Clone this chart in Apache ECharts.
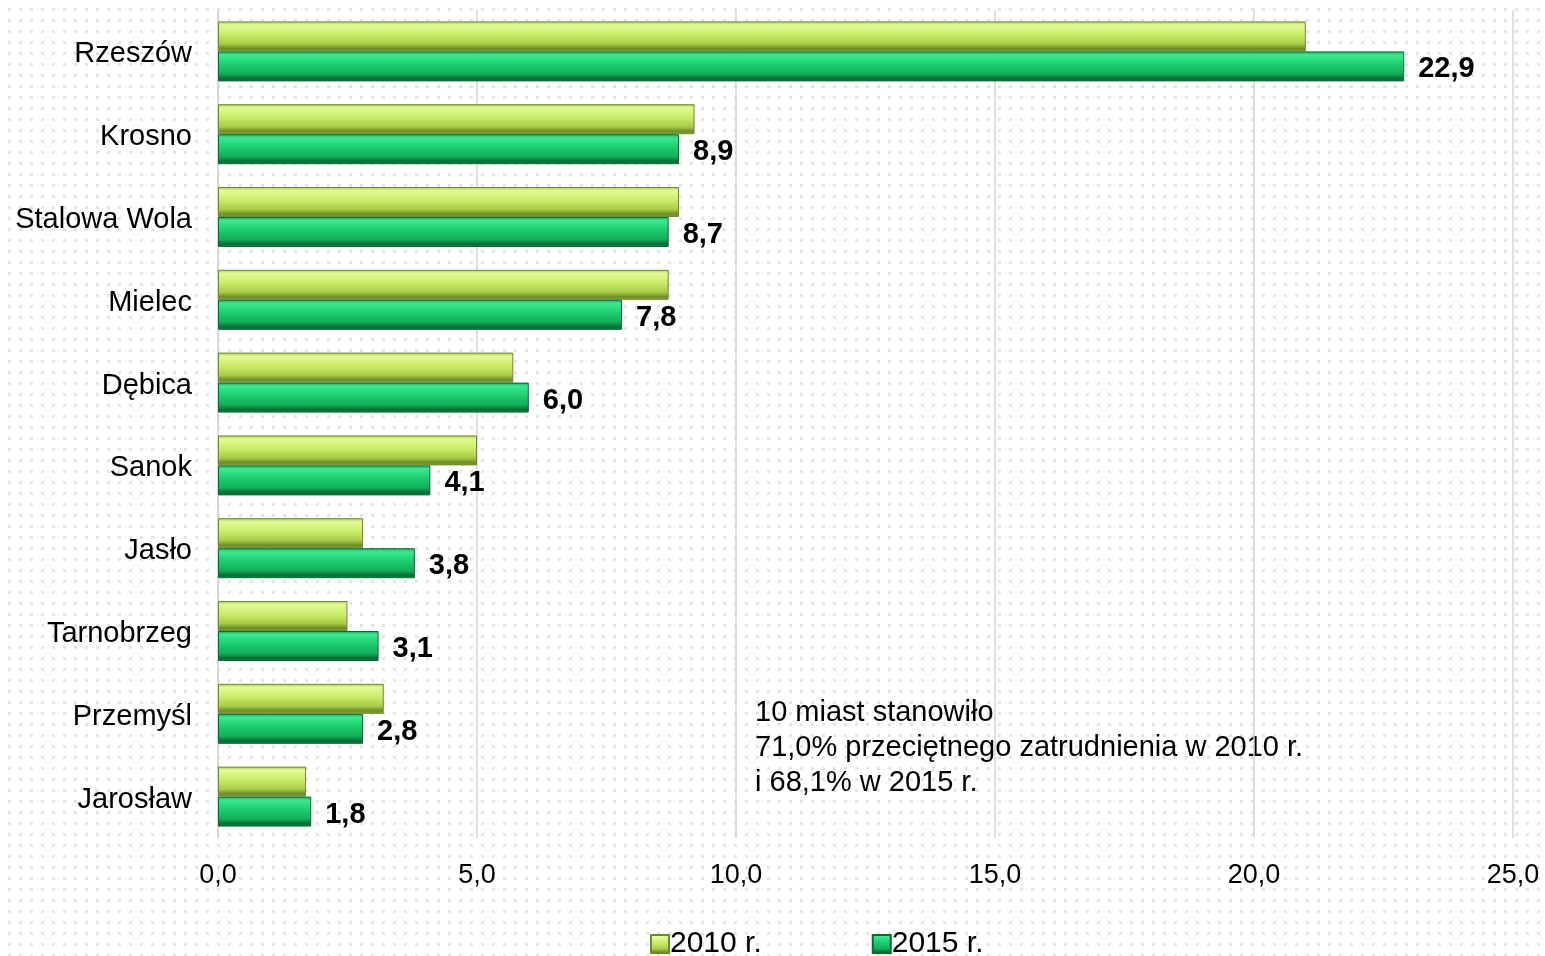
<!DOCTYPE html>
<html><head><meta charset="utf-8">
<script src="https://cdn.jsdelivr.net/npm/echarts@6/dist/echarts.min.js"></script>
<style>
html,body{margin:0;padding:0;}
body{width:1545px;height:956px;
background-image:linear-gradient(90deg,#fff 0 8px,transparent 8px),linear-gradient(#fff 0 8px,transparent 8px);
background-size:11px 11px;background-color:#e4e4e4;}
#c{width:1545px;height:956px;}
</style></head><body>
<div id="c"></div>
<script>
const categories = ['Rzeszów','Krosno','Stalowa Wola','Mielec','Dębica','Sanok','Jasło','Tarnobrzeg','Przemyśl','Jarosław'];
const values2010 = [21.0, 9.2, 8.9, 8.7, 5.7, 5.0, 2.8, 2.5, 3.2, 1.7];
const values2015 = [22.9, 8.9, 8.7, 7.8, 6.0, 4.1, 3.8, 3.1, 2.8, 1.8];
const seriesNames = ['2010 r.', '2015 r.'];
const noteLines = ['10 miast stanowiło', '71,0% przeciętnego zatrudnienia w 2010 r.', 'i 68,1% w 2015 r.'];

const fmt = v => v.toFixed(1).replace('.', ',');
const grad1 = new echarts.graphic.LinearGradient(0,0,0,1,[
  {offset:0,color:'#a8c850'},{offset:0.12,color:'#e4fa98'},{offset:0.45,color:'#c8ec68'},
  {offset:0.75,color:'#a8cc48'},{offset:0.9,color:'#6e8c2a'},{offset:1,color:'#86a838'}]);
const grad2 = new echarts.graphic.LinearGradient(0,0,0,1,[
  {offset:0,color:'#20a858'},{offset:0.12,color:'#3ce890'},{offset:0.45,color:'#1ccc6c'},
  {offset:0.75,color:'#14ac58'},{offset:0.9,color:'#0a6c34'},{offset:1,color:'#108044'}]);

const chart = echarts.init(document.getElementById('c'));
chart.setOption({
  animation:false,
  textStyle:{fontFamily:'Liberation Sans, Arial, sans-serif'},
  grid:{left:218,right:32,top:10,bottom:118,containLabel:false},
  xAxis:{type:'value',min:0,max:25,interval:5,
    axisLabel:{formatter:v=>fmt(v),fontSize:27,color:'#000',margin:24},
    axisLine:{show:false},axisTick:{show:false},
    splitLine:{show:true,lineStyle:{color:'#d4d4d4',width:1.5}}},
  yAxis:{type:'category',data:categories,inverse:true,
    axisLabel:{fontSize:29,color:'#000',margin:26,formatter:v=>'{a|'+v+'}',
      rich:{a:{fontSize:29,color:'#000',padding:[6,0,0,0]}}},
    axisLine:{show:true,lineStyle:{color:'#d4d4d4',width:1.5}},axisTick:{show:false}},
  legend:{bottom:-8,left:645,itemGap:110,itemWidth:18,itemHeight:18,
    textStyle:{fontSize:30,color:'#000',padding:[0,0,0,-4]},
    data:[{name:seriesNames[0],icon:'rect'},{name:seriesNames[1],icon:'rect'}]},
  series:[
    {name:seriesNames[0],type:'bar',data:values2010,barWidth:30,barGap:'0%',
     itemStyle:{color:grad1,borderColor:'#6e8c2a',borderWidth:1}},
    {name:seriesNames[1],type:'bar',data:values2015,barWidth:30,barGap:'0%',
     itemStyle:{color:grad2,borderColor:'#0a6c34',borderWidth:1},
     label:{show:true,position:'right',distance:14,offset:[0,3],formatter:p=>fmt(p.value),
       fontSize:29,fontWeight:'bold',color:'#000'}}
  ],
  graphic:[{type:'text',left:755,top:695,
    style:{text:noteLines.join('\n'),fontSize:29,lineHeight:35,fill:'#000',
      fontFamily:'Liberation Sans, Arial, sans-serif'}}]
});
</script></body></html>
